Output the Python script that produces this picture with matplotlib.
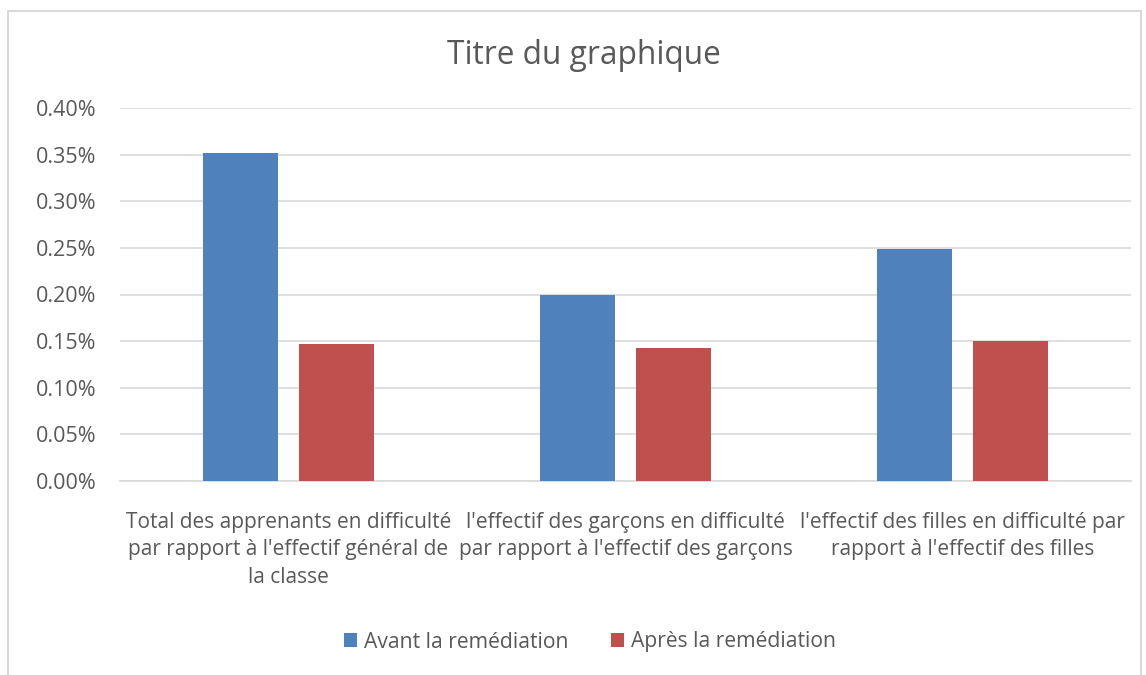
import matplotlib
matplotlib.use("Agg")
import matplotlib.pyplot as plt
from matplotlib.patches import Rectangle
from matplotlib import font_manager
import numpy as np

categories = [
    "Total des apprenants en difficulté\npar rapport à l'effectif général de\nla classe",
    "l'effectif des garçons en difficulté\npar rapport à l'effectif des garçons",
    "l'effectif des filles en difficulté par\nrapport à l'effectif des filles",
]
series_names = ["Avant la remédiation", "Après la remédiation"]
avant = [0.352, 0.200, 0.249]
apres = [0.147, 0.143, 0.150]
yticks = [0.00, 0.05, 0.10, 0.15, 0.20, 0.25, 0.30, 0.35, 0.40]

names = {f.name for f in font_manager.fontManager.ttflist}
fam = "Liberation Sans Narrow" if "Liberation Sans Narrow" in names else "Open Sans"
plt.rcParams['font.family'] = [fam, 'DejaVu Sans']

txt = "#595959"
blue = "#4F81BD"
red = "#C0504D"

fig = plt.figure(figsize=(11.46, 6.75), dpi=100)
W, H = 1146, 675
ax = fig.add_axes([120 / W, 1 - 481 / H, 1011 / W, 373 / H])

x = np.arange(len(categories))
bw = 0.2226
ax.bar(x - 0.141, avant, bw, color=blue, label=series_names[0], zorder=3)
ax.bar(x + 0.141, apres, bw, color=red, label=series_names[1], zorder=3)

ax.set_xlim(-0.5, len(categories) - 0.5)
ax.set_ylim(0, 0.40)
ax.set_yticks(yticks)
ax.set_yticklabels([f"{v:.2f}%" for v in yticks], color=txt, fontsize=15.5)
ax.set_xticks(x)
ax.set_xticklabels(categories, color=txt, fontsize=15, linespacing=1.42)
ax.tick_params(axis='both', length=0)
ax.tick_params(axis='x', pad=22)
ax.tick_params(axis='y', pad=17)
ax.grid(axis='y', color="#D9D9D9", linewidth=1.2, zorder=0)
for s in ["top", "right", "left"]:
    ax.spines[s].set_visible(False)
ax.spines["bottom"].set_color("#D9D9D9")
ax.spines["bottom"].set_linewidth(1.2)

fig.text(584 / W, 1 - 55 / H, "Titre du graphique", ha="center", va="center",
         fontsize=22.8, color=txt)

leg = fig.legend(loc="center", bbox_to_anchor=(590 / W, 1 - 642 / H), ncol=2,
                 frameon=False, fontsize=15.2, handlelength=0.6, handleheight=0.6,
                 columnspacing=2.0, handletextpad=0.35)
for t in leg.get_texts():
    t.set_color(txt)

fig.patches.append(Rectangle((8 / W, -0.05), 1133 / W, 1 - 11 / H + 0.05,
                             transform=fig.transFigure, fill=False,
                             edgecolor="#D9D9D9", linewidth=1.5))

fig.savefig("out.png", dpi=100)
